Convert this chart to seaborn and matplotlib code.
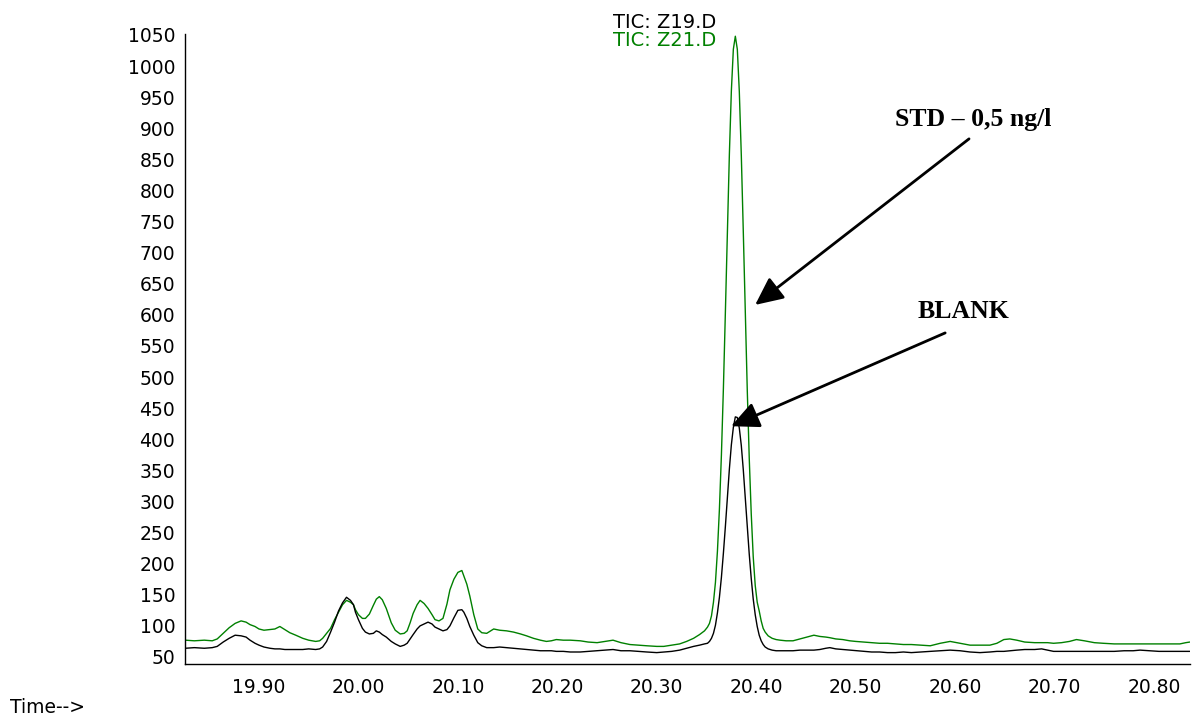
import matplotlib
matplotlib.use("Agg")
import matplotlib.pyplot as plt
from matplotlib.ticker import MultipleLocator, FixedLocator, FixedFormatter
import pandas as pd
import seaborn as sns

# Retention time (min) and total ion current for the two runs
time_min = [
    19.826, 19.835, 19.845, 19.853, 19.858, 19.864, 19.870, 19.876, 19.882, 19.887,
    19.891, 19.896, 19.900, 19.905, 19.911, 19.916, 19.921, 19.926, 19.931, 19.937,
    19.944, 19.950, 19.957, 19.961, 19.964, 19.968, 19.972, 19.976, 19.980, 19.984,
    19.988, 19.992, 19.995, 19.997, 20.000, 20.004, 20.007, 20.011, 20.015, 20.018,
    20.021, 20.024, 20.028, 20.033, 20.037, 20.042, 20.046, 20.049, 20.052, 20.055,
    20.059, 20.062, 20.066, 20.070, 20.074, 20.077, 20.081, 20.085, 20.089, 20.092,
    20.096, 20.100, 20.104, 20.106, 20.109, 20.112, 20.116, 20.120, 20.124, 20.129,
    20.136, 20.142, 20.149, 20.156, 20.163, 20.169, 20.176, 20.183, 20.189, 20.194,
    20.199, 20.206, 20.213, 20.223, 20.231, 20.240, 20.248, 20.256, 20.264, 20.273,
    20.281, 20.290, 20.300, 20.307, 20.315, 20.323, 20.330, 20.337, 20.343, 20.348,
    20.351, 20.353, 20.355, 20.357, 20.359, 20.361, 20.363, 20.365, 20.367, 20.369,
    20.371, 20.373, 20.375, 20.377, 20.379, 20.381, 20.383, 20.385, 20.387, 20.389,
    20.391, 20.393, 20.395, 20.397, 20.399, 20.401, 20.403, 20.405, 20.407, 20.409,
    20.412, 20.416, 20.420, 20.424, 20.430, 20.437, 20.444, 20.451, 20.458, 20.464,
    20.470, 20.474, 20.480, 20.487, 20.494, 20.500, 20.508, 20.516, 20.524, 20.532,
    20.540, 20.548, 20.556, 20.565, 20.575, 20.585, 20.595, 20.605, 20.615, 20.625,
    20.635, 20.642, 20.649, 20.655, 20.662, 20.670, 20.680, 20.687, 20.693, 20.699,
    20.707, 20.715, 20.722, 20.730, 20.740, 20.749, 20.760, 20.770, 20.779, 20.786,
    20.795, 20.805, 20.815, 20.826, 20.832, 20.836,
]

# Z19.D - blank
tic_z19 = [
    64, 65, 64, 65, 67, 74, 80, 85, 84, 82,
    77, 72, 69, 66, 64, 63, 63, 62, 62, 62,
    62, 63, 62, 63, 66, 75, 90, 106, 124, 137,
    146, 141, 134, 122, 110, 96, 90, 87, 88, 92,
    90, 86, 82, 75, 71, 67, 69, 72, 79, 86,
    95, 100, 103, 106, 103, 98, 95, 92, 94, 100,
    113, 125, 126, 122, 112, 99, 85, 73, 68, 65,
    65, 66, 65, 64, 63, 62, 61, 60, 60, 60,
    59, 59, 58, 58, 59, 60, 61, 62, 60, 60,
    59, 58, 57, 58, 59, 61, 64, 67, 69, 71,
    72, 75, 80, 88, 101, 121, 146, 178, 217, 260,
    307, 352, 391, 419, 436, 435, 418, 390, 351, 306,
    259, 215, 176, 143, 118, 99, 85, 76, 70, 66,
    63, 61, 60, 60, 60, 60, 61, 61, 61, 62,
    64, 65, 63, 62, 61, 60, 59, 58, 58, 57,
    57, 58, 57, 58, 59, 60, 61, 60, 58, 57,
    58, 59, 59, 60, 61, 62, 62, 63, 61, 59,
    59, 59, 59, 59, 59, 59, 59, 60, 60, 61,
    60, 59, 59, 59, 59, 59,
]

# Z21.D - standard 0,5 ng/l
tic_z21 = [
    77, 76, 77, 76, 79, 88, 97, 104, 108, 106,
    102, 99, 95, 93, 94, 95, 99, 94, 89, 85,
    80, 77, 75, 76, 80, 88, 96, 110, 122, 134,
    141, 138, 134, 126, 118, 112, 112, 119, 133, 143,
    147, 142, 128, 105, 93, 87, 88, 92, 105, 120,
    134, 141, 136, 128, 118, 110, 108, 112, 135, 158,
    175, 186, 189, 180, 167, 148, 118, 95, 89, 88,
    95, 93, 92, 90, 87, 84, 80, 77, 75, 76,
    78, 77, 77, 76, 74, 73, 75, 77, 73, 70,
    69, 68, 67, 67, 69, 71, 75, 80, 86, 92,
    98, 104, 116, 138, 170, 220, 288, 375, 482, 605,
    735, 858, 960, 1027, 1048, 1027, 959, 857, 734, 603,
    479, 369, 280, 211, 165, 138, 124, 108, 96, 90,
    84, 80, 78, 77, 76, 76, 79, 82, 85, 83,
    82, 81, 79, 78, 76, 75, 74, 73, 72, 72,
    71, 70, 70, 69, 68, 72, 75, 72, 69, 69,
    69, 72, 78, 79, 77, 74, 73, 73, 73, 72,
    73, 75, 78, 76, 73, 72, 71, 71, 71, 71,
    71, 71, 71, 71, 73, 74,
]

y_ticks = list(range(50, 1051, 50))
x_ticks = [19.90, 20.00, 20.10, 20.20, 20.30, 20.40, 20.50, 20.60, 20.70, 20.80]
x_tick_labels = ["19.90", "20.00", "20.10", "20.20", "20.30",
                 "20.40", "20.50", "20.60", "20.70", "20.80"]

series_colors = {"Z19": "black", "Z21": "#008000"}

df = pd.concat([
    pd.DataFrame({"time": time_min, "abundance": tic_z19, "file": "Z19"}),
    pd.DataFrame({"time": time_min, "abundance": tic_z21, "file": "Z21"}),
], ignore_index=True)

sns.set_style("white")
plt.rcParams["font.family"] = ["DejaVu Sans"]

W, H = 1194, 716
fig = plt.figure(figsize=(W / 100, H / 100), dpi=100)
ax = fig.add_axes([185 / W, 52 / H, 1005 / W, 630.2 / H])

sns.lineplot(data=df, x="time", y="abundance", hue="file",
             hue_order=["Z21", "Z19"], palette=series_colors,
             estimator=None, legend=False, linewidth=1.0, ax=ax)

ax.set_xlim(19.8256, 20.8362)
ax.set_ylim(38.7, 1051.9)
ax.set_xlabel("")
ax.set_ylabel("")

ax.xaxis.set_major_locator(FixedLocator(x_ticks))
ax.xaxis.set_major_formatter(FixedFormatter(x_tick_labels))
ax.xaxis.set_minor_locator(MultipleLocator(0.02))
ax.yaxis.set_major_locator(FixedLocator(y_ticks))
ax.yaxis.set_major_formatter(FixedFormatter([str(v) for v in y_ticks]))
ax.yaxis.set_minor_locator(MultipleLocator(10))

ax.tick_params(axis="x", which="major", direction="out", length=8, width=1,
               pad=2, labelsize=13.5, colors="black")
ax.tick_params(axis="x", which="minor", direction="out", length=5, width=1)
ax.tick_params(axis="y", which="major", direction="out", length=5, width=1,
               pad=2, labelsize=13.5, colors="black")
ax.tick_params(axis="y", which="minor", direction="out", length=2, width=1)

for side in ("top", "right"):
    ax.spines[side].set_visible(False)
for side in ("left", "bottom"):
    ax.spines[side].set_color("black")
    ax.spines[side].set_linewidth(1.0)

# run labels above the peak
fig.text(613 / W, 1 - 28 / H, "TIC: Z19.D", color="black", fontsize=14,
         ha="left", va="baseline")
fig.text(613 / W, 1 - 46 / H, "TIC: Z21.D", color="#008000", fontsize=14,
         ha="left", va="baseline")

fig.text(10 / W, 1 - 713 / H, "Time-->", color="black", fontsize=13.5,
         ha="left", va="baseline")

# callouts
serif_bold = dict(family=["Liberation Serif", "DejaVu Serif"], weight="bold",
                  fontsize=18.5, color="black")
ax.text(20.618, 903, "STD \u2013 0,5 ng/l", ha="center", va="baseline", **serif_bold)
ax.text(20.608, 595, "BLANK", ha="center", va="baseline", **serif_bold)

arrow_style = dict(arrowstyle="-|>,head_length=0.85,head_width=0.4", color="black",
                   lw=2, shrinkA=0, shrinkB=0, mutation_scale=20)
ax.annotate("", xy=(20.3989, 616), xytext=(20.614, 883), arrowprops=arrow_style)
ax.annotate("", xy=(20.3747, 421), xytext=(20.590, 571), arrowprops=arrow_style)

fig.savefig("out.png", dpi=100)
